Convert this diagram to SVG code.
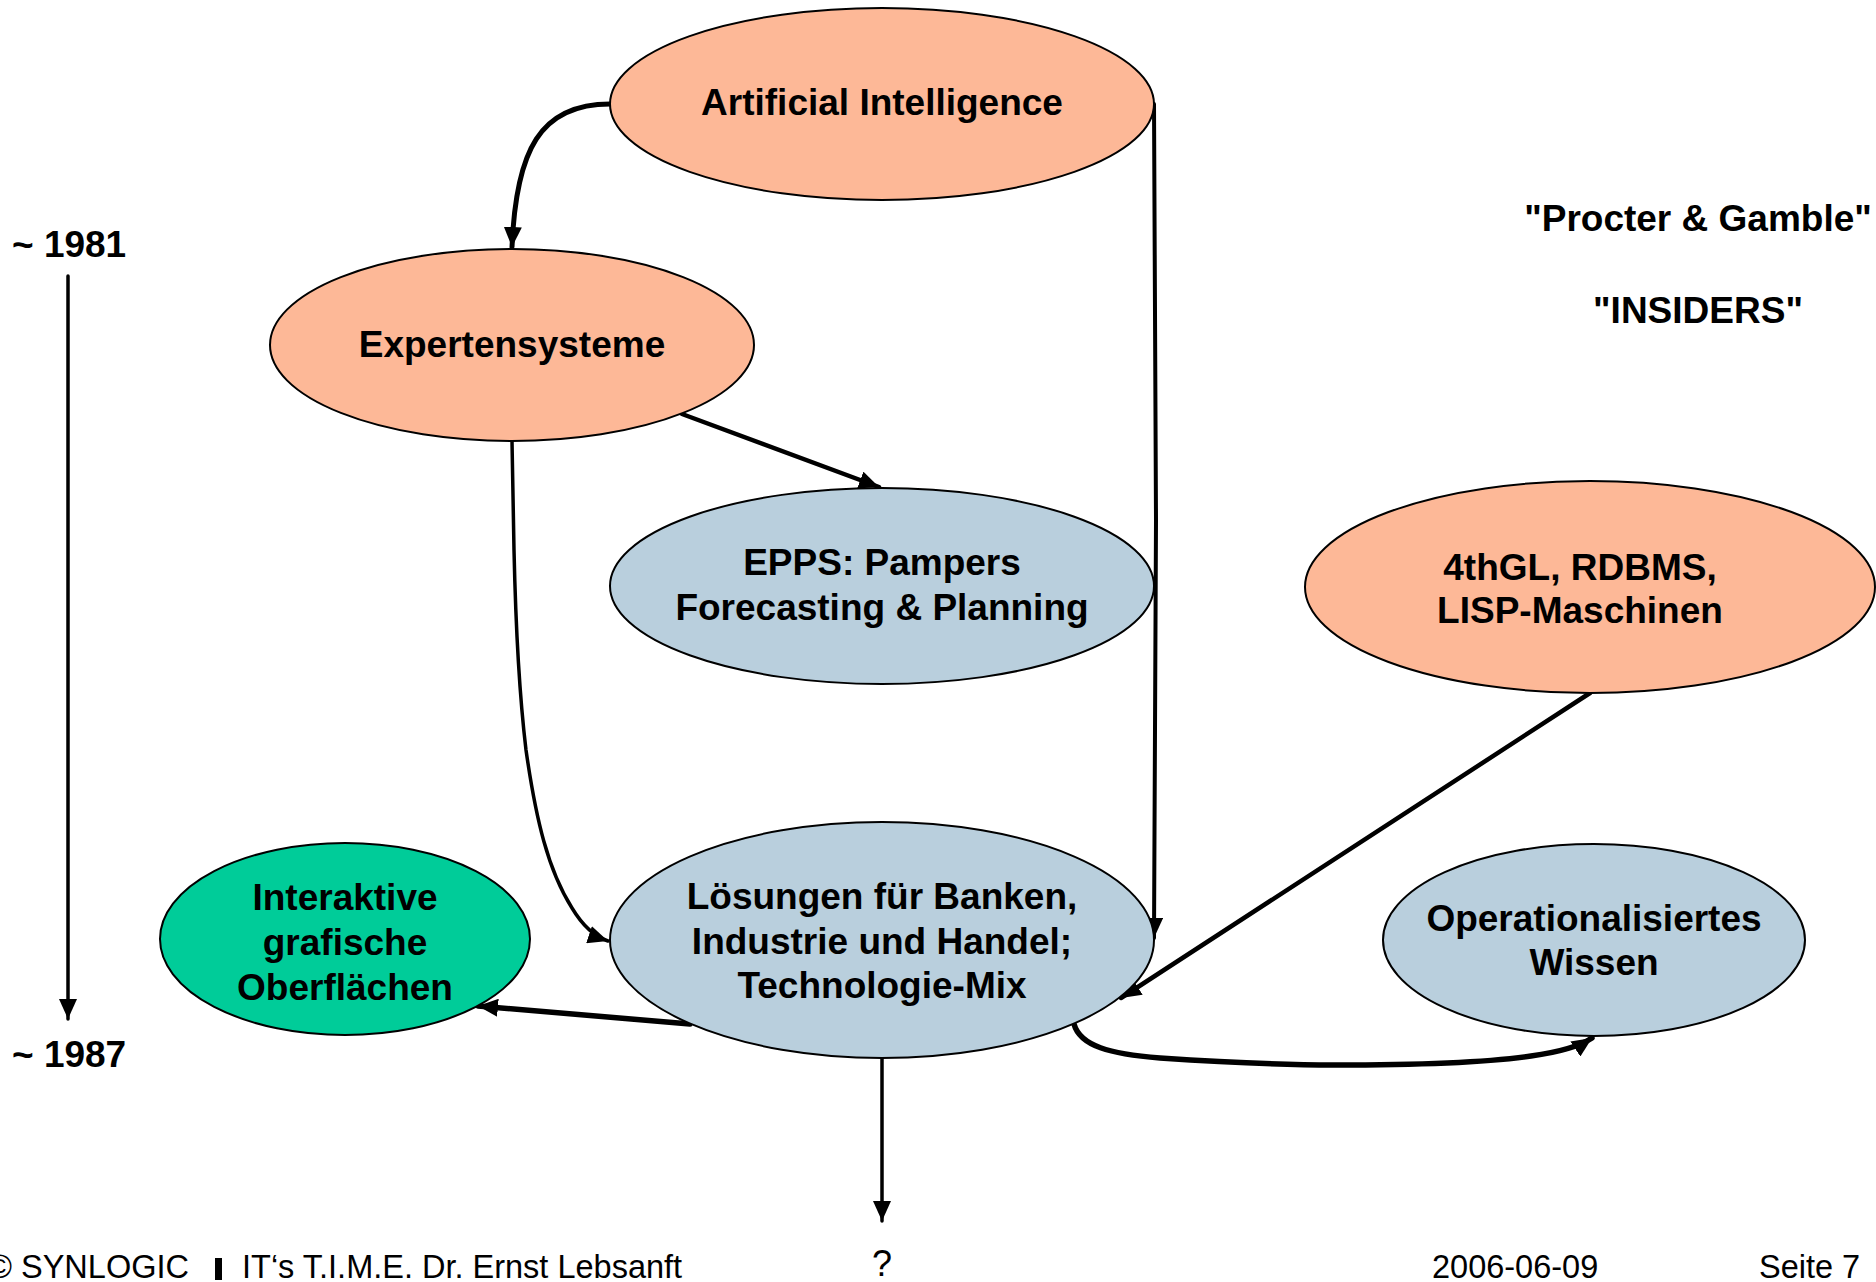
<svg xmlns="http://www.w3.org/2000/svg" width="1876" height="1282" viewBox="0 0 1876 1282">
<style>
.n{stroke:#000;stroke-width:2}
.sal{fill:#FDB897}
.blu{fill:#B9CFDD}
.grn{fill:#00CC99}
.t{font-family:"Liberation Sans",Arial,sans-serif;font-weight:bold;font-size:37px;fill:#000;text-anchor:middle}
.f{font-family:"Liberation Sans",Arial,sans-serif;font-size:32.5px;fill:#000}
.c{fill:none;stroke:#000;stroke-linecap:round}
</style>
<defs>
<marker id="ah" markerUnits="userSpaceOnUse" markerWidth="22" markerHeight="18" refX="20" refY="9" orient="auto">
<path d="M0,0 L20,9 L0,18 z" fill="#000"/>
</marker>
</defs>
<g id="connectors">
<path class="c" stroke-width="5" d="M610 104 C540 104 516 150 512 247" marker-end="url(#ah)"/>
<path class="c" stroke-width="4" d="M1154 104 L1156 520 L1154 938" marker-end="url(#ah)"/>
<path class="c" stroke-width="4.5" d="M682 414 L879 487" marker-end="url(#ah)"/>
<path class="c" stroke-width="3.5" d="M512 441 L514 550 C516 640 520 700 526 750 C536 820 548 870 572 908 C584 928 596 937 608 941" marker-end="url(#ah)"/>
<path class="c" stroke-width="4.5" d="M1590 693 L1121 998" marker-end="url(#ah)"/>
<path class="c" stroke-width="5.5" d="M690 1024 L478 1006" marker-end="url(#ah)"/>
<path class="c" stroke-width="5.5" d="M1074 1024 C1080 1046 1110 1054 1160 1058 C1220 1062 1290 1065 1334 1065 C1420 1065 1490 1062 1531 1056 C1560 1052 1580 1046 1592 1038" marker-end="url(#ah)"/>
<path class="c" stroke-width="3.5" d="M882 1059 L882 1221" marker-end="url(#ah)"/>
<path class="c" stroke-width="3.5" d="M68 276 L68 1019" marker-end="url(#ah)"/>
</g>
<g id="ai"><ellipse class="n sal" cx="882" cy="104" rx="272" ry="96"/><text class="t" x="882" y="115">Artificial Intelligence</text></g>
<g id="expert"><ellipse class="n sal" cx="512" cy="345" rx="242" ry="96"/><text class="t" x="512" y="357">Expertensysteme</text></g>
<g id="epps"><ellipse class="n blu" cx="882" cy="586" rx="272" ry="98"/><text class="t" x="882" y="575">EPPS: Pampers</text><text class="t" x="882" y="620">Forecasting &amp; Planning</text></g>
<g id="fourthgl"><ellipse class="n sal" cx="1590" cy="587" rx="285" ry="106"/><text class="t" x="1580" y="580">4thGL, RDBMS,</text><text class="t" x="1580" y="623">LISP-Maschinen</text></g>
<g id="interaktiv"><ellipse class="n grn" cx="345" cy="939" rx="185" ry="96"/><text class="t" x="345" y="910">Interaktive</text><text class="t" x="345" y="955">grafische</text><text class="t" x="345" y="1000">Oberflächen</text></g>
<g id="loesungen"><ellipse class="n blu" cx="882" cy="940" rx="272" ry="118"/><text class="t" x="882" y="909">Lösungen für Banken,</text><text class="t" x="882" y="954">Industrie und Handel;</text><text class="t" x="882" y="998">Technologie-Mix</text></g>
<g id="wissen"><ellipse class="n blu" cx="1594" cy="940" rx="211" ry="96"/><text class="t" x="1594" y="931">Operationalisiertes</text><text class="t" x="1594" y="975">Wissen</text></g>
<g id="labels">
<text class="t" x="1698" y="231">"Procter &amp; Gamble"</text>
<text class="t" x="1698" y="323">"INSIDERS"</text>
<text class="t" x="12" y="257" style="text-anchor:start">~ 1981</text>
<text class="t" x="12" y="1067" style="text-anchor:start">~ 1987</text>
</g>
<g id="footer">
<text class="f" x="-12" y="1278">© SYNLOGIC</text>
<rect x="215" y="1258" width="7" height="22" fill="#000"/>
<text class="f" x="242" y="1278">IT‘s T.I.M.E. Dr. Ernst Lebsanft</text>
<text class="f" x="882" y="1276" style="text-anchor:middle;font-size:36px">?</text>
<text class="f" x="1432" y="1278">2006-06-09</text>
<text class="f" x="1759" y="1278">Seite 7</text>
</g>
</svg>
